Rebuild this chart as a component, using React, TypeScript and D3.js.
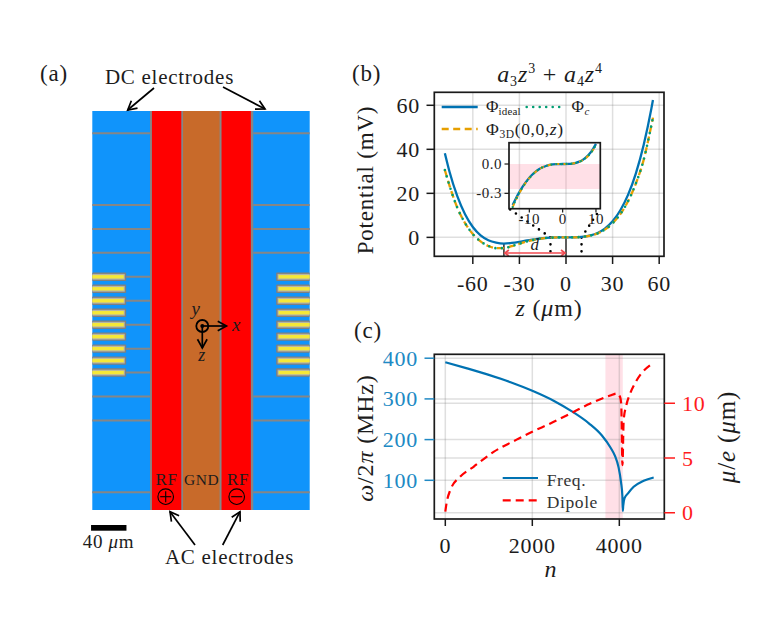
import React from "react";
import * as d3 from "d3";

// ---------- panel (b) data ----------
const zMain = [-78,-75,-70,-65,-60,-55,-50,-45,-40,-35,-30,-25,-20,-15,-10,-5,0,5,10,15,20,25,30,35,40,45,50,55,56];
const phiIdeal = [38.2,29.8,18.7,10.5,4.7,0.9,-1.3,-2.4,-2.8,-2.5,-2.0,-1.4,-0.9,-0.4,-0.14,-0.02,0,0.02,0.2,0.75,1.9,4.0,7.3,12.3,19.4,29.1,42,58.6,62.4];
const phi3D = [30.6,23.5,13.5,6.5,1.5,-1.8,-3.9,-4.9,-4.9,-4.0,-2.9,-1.8,-1.0,-0.45,-0.15,-0.02,0,0.02,0.2,0.7,1.7,3.5,6.4,10.6,16.5,24.5,35.2,51,54.4];
const zInset = [-15,-14,-13,-12,-11,-10,-9,-8,-7,-6,-5,-4,-3,-2,0,2,3,4,5,6,7,8,9,10];
const phiInset = [-0.42,-0.35,-0.288,-0.232,-0.183,-0.14,-0.105,-0.076,-0.051,-0.033,-0.02,-0.01,-0.004,-0.001,0,0.002,0.005,0.012,0.024,0.042,0.067,0.102,0.148,0.206];
const phiInset3D = [-0.44,-0.365,-0.298,-0.24,-0.188,-0.144,-0.107,-0.077,-0.052,-0.033,-0.02,-0.01,-0.004,-0.001,0,0.002,0.005,0.011,0.022,0.039,0.062,0.094,0.138,0.192];
const bXTicks = [-60,-30,0,30,60];
const bYTicks = [0,20,40,60];
const insetXTicks = [-10,0,10];
const insetYTicks = [0,-0.3];
const insetYLabels = ["0.0","-0.3"];

// ---------- panel (c) data ----------
const nFreq = [0,500,1000,1500,2000,2500,2900,3300,3600,3800,3900,3980,4040,4070,4080,4090,4120,4200,4330,4560,4790];
const freq = [390,375,359,341,320,295,270,240,210,180,160,133,95,62,25,38,56,68,84,99,107];
const nDipole = [0,30,115,345,650,1110,1650,2000,2415,2875,3333,3790,3945,4020,4045,4072,4100,4160,4250,4400,4790];
const dipole = [0.1,0.9,2.07,3.3,4.2,5.56,6.7,7.4,8.15,9.06,9.97,10.7,10.9,10.55,9.8,4.35,8.45,9.8,10.9,12.1,13.7];
const cXTicks = [0,2000,4000];
const cLeftTicks = [100,200,300,400];
const cRightTicks = [0,5,10];
const band = [3680,4080];

// ---------- panel (a) data, micrometres from the trap centre ----------
const dcGaps = [-216,-135,-108,-81,-54,-27,0,27,54,81,108,189];
const fingers = [-54,-40.5,-27,-13.5,0,13.5,27,40.5,54];
const wiredFingers = [-54,-27,0,27,54];

const BLUE = "#0072B2", ORANGE = "#E69F00", GREEN = "#009E73", TXT = "#1c1c1c";
const GRID = "rgba(120,120,120,0.24)";
const AXBLUE = "#2089c4", AXRED = "#ff1c1c";
const SERIF = "'Liberation Serif', serif";

const bx = d3.scaleLinear([-84.8, 63.1], [434.3, 664]);
const by = d3.scaleLinear([-8.6, 65.9], [256.3, 92.3]);
const ix = d3.scaleLinear([-16.1, 11.3], [509, 600.3]);
const iy = d3.scaleLinear([-0.457, 0.218], [208.7, 142.7]);
const cx = d3.scaleLinear([-253, 5034], [434.3, 664.3]);
const cl = d3.scaleLinear([4.9, 409.6], [519, 354.3]);
const cr = d3.scaleLinear([-0.57, 14.47], [519, 354.3]);
const ax = d3.scaleLinear([-122.6, 122], [92.3, 309.7]);
const az = d3.scaleLinear([-241, 209], [111, 510]);

const path = (xs: number[], ys: number[], sx: any, sy: any) =>
  d3.line<number>().x((d) => sx(d)).y((_, i) => sy(ys[i])).curve(d3.curveMonotoneX)(xs) as string;

const T = ({ x, y, s = 20, a = "middle", c = TXT, i = false, r, ls = 0.035, children }: any) => (
  <text x={x} y={y} fontSize={s} textAnchor={a} fill={c} fontStyle={i ? "italic" : "normal"} fontFamily={SERIF}
    letterSpacing={s * ls} transform={r ? `rotate(${r} ${x} ${y})` : undefined}>{children}</text>
);

const Arrow = ({ x1, y1, x2, y2 }: any) => {
  const ang = Math.atan2(y2 - y1, x2 - x1), h = 10, w = 0.5;
  const p = (t: number) => `${x2 - h * Math.cos(ang + t)},${y2 - h * Math.sin(ang + t)}`;
  return (
    <g fill="none" stroke="#000" strokeWidth={1.7}>
      <line x1={x1} y1={y1} x2={x2} y2={y2} />
      <polyline points={`${p(w)} ${x2},${y2} ${p(-w)}`} />
    </g>
  );
};

const PanelA = () => {
  const elec = "#1094fb", gap = "#868686";
  const sides = [
    { x0: -122.6, x1: -57.7, pad0: -122.6, pad1: -84.5 },
    { x0: 58.5, x1: 122, pad0: 84.3, pad1: 122 },
  ];
  return (
    <g>
      <rect x={ax(-122.6)} y={az(-241)} width={ax(122) - ax(-122.6)} height={az(209) - az(-241)} fill={elec} />
      <rect x={ax(-57.7)} y={az(-241)} width={ax(58.5) - ax(-57.7)} height={az(209) - az(-241)} fill={gap} />
      <rect x={ax(-55.5)} y={az(-241)} width={ax(-22.5) - ax(-55.5)} height={az(209) - az(-241)} fill="#ff0000" />
      <rect x={ax(-20.5)} y={az(-241)} width={ax(20.6) - ax(-20.5)} height={az(209) - az(-241)} fill="#c86a2a" />
      <rect x={ax(22.8)} y={az(-241)} width={ax(55.8) - ax(22.8)} height={az(209) - az(-241)} fill="#ff0000" />
      {sides.map((sd, k) => (
        <g key={k}>
          {dcGaps.filter((g) => !fingers.includes(g)).map((g) => (
            <line key={g} x1={ax(sd.x0)} x2={ax(sd.x1)} y1={az(g)} y2={az(g)} stroke={gap} strokeWidth={2} />
          ))}
          {wiredFingers.map((g) => (
            <line key={g} x1={ax(sd.pad0)} x2={ax(sd.x1)} y1={az(g)} y2={az(g)} stroke={gap} strokeWidth={2} />
          ))}
          {fingers.map((g) => (
            <g key={g}>
              <rect x={ax(sd.pad0)} y={az(g) - 4.2} width={ax(sd.pad1) - ax(sd.pad0)} height={8.4} fill="#7f7f7f" rx={0.8} />
              <rect x={ax(sd.pad0) + (k === 1 ? 1.4 : 0)} y={az(g) - 2.9} width={ax(sd.pad1) - ax(sd.pad0) - 1.4} height={5.8} fill="#b5b5a8" />
              <rect x={ax(sd.pad0) + (k === 1 ? 2.4 : 0)} y={az(g) - 1.7} width={ax(sd.pad1) - ax(sd.pad0) - 2.4} height={3.4} fill="#f5e838" />
            </g>
          ))}
        </g>
      ))}
      {/* coordinate axes */}
      <circle cx={202.3} cy={326} r={6} fill="none" stroke="#000" strokeWidth={1.8} />
      <circle cx={202.3} cy={326} r={2} fill="#000" />
      <Arrow x1={202.3} y1={326} x2={226.5} y2={326} />
      <Arrow x1={202.3} y1={326} x2={202.3} y2={348} />
      <T x={232} y={331} s={19} a="start" i>x</T>
      <T x={196} y={315} s={19} i>y</T>
      <T x={202} y={361} s={18} i>z</T>

      <T x={166.5} y={485} s={17}>RF</T>
      <T x={201.7} y={485} s={15.5}>GND</T>
      <T x={238} y={485} s={17}>RF</T>
      {[165.7, 236.7].map((c, k) => (
        <g key={k} fill="none" stroke="#000" strokeWidth={1.1}>
          <circle cx={c} cy={496.7} r={7.8} />
          <line x1={c - 5.5} x2={c + 5.5} y1={496.7} y2={496.7} />
          {k === 0 && <line x1={c} x2={c} y1={491.2} y2={502.2} />}
        </g>
      ))}
      <rect x={ax(-124)} y={525} width={35.4} height={5.7} fill="#000" />
      <T x={108.5} y={548} s={19}>40 <tspan fontStyle="italic">μ</tspan>m</T>
      <T x={169.5} y={84} s={21}>DC electrodes</T>
      <T x={229.5} y={564} s={21}>AC electrodes</T>
      <Arrow x1={154} y1={88} x2={127.7} y2={110} />
      <Arrow x1={223} y1={87} x2={265} y2={109} />
      <Arrow x1={195} y1={545} x2={170} y2={511.7} />
      <Arrow x1={222.7} y1={545} x2={240} y2={511.7} />
      <T x={40} y={81} s={23} a="start">(a)</T>
    </g>
  );
};

const Legend = ({ x1, x2, y, color, dash, w = 2.3, cap }: any) => (
  <line x1={x1} x2={x2} y1={y} y2={y} stroke={color} strokeWidth={w} strokeDasharray={dash} strokeLinecap={cap} />
);

const PanelB = () => (
  <g>
    {bXTicks.map((t) => <line key={t} x1={bx(t)} x2={bx(t)} y1={92.3} y2={256.3} stroke={GRID} strokeWidth={1.5} />)}
    {bYTicks.map((t) => <line key={t} x1={434.3} x2={664} y1={by(t)} y2={by(t)} stroke={GRID} strokeWidth={1.5} />)}

    {/* distance d */}
    <line x1={bx(-40)} x2={bx(-40)} y1={by(-2.8)} y2={256.3} stroke="#444" strokeWidth={1.7} />
    <line x1={bx(0)} x2={bx(0)} y1={by(0)} y2={256.3} stroke="#444" strokeWidth={1.7} />
    {/* zoom guides */}
    <g fill="none" stroke="#000" strokeWidth={2.6} strokeLinecap="round" strokeDasharray="0 7">
      <line x1={bx(-10)} x2={ix(-16.1)} y1={by(0)} y2={iy(-0.457)} />
      <line x1={bx(-10)} x2={bx(-10)} y1={by(0)} y2={256.3} />
      <line x1={bx(10)} x2={ix(11.3)} y1={by(0)} y2={iy(-0.457)} />
      <line x1={bx(10)} x2={bx(10)} y1={by(0)} y2={256.3} />
    </g>
    <path d={path(zMain, phiIdeal, bx, by)} fill="none" stroke={BLUE} strokeWidth={2.3} />
    <path d={path(zMain, phi3D, bx, by)} fill="none" stroke={ORANGE} strokeWidth={2.3} strokeDasharray="7 4" />
    <path d={path(zMain, phi3D, bx, by)} fill="none" stroke={GREEN} strokeWidth={2.6} strokeDasharray="0 6.5" strokeLinecap="round" />

    <g stroke="#f04a50" fill="none" strokeWidth={1.7}>
      <line x1={bx(-40) + 1} x2={bx(0) - 1} y1={253} y2={253} />
      <polyline points={`${bx(-40) + 5},250 ${bx(-40) + 1},253 ${bx(-40) + 5},256`} />
      <polyline points={`${bx(0) - 5},250 ${bx(0) - 1},253 ${bx(0) - 5},256`} />
    </g>
    <T x={535} y={250} s={17} i>d</T>

    <rect x={434.3} y={92.3} width={229.7} height={164} fill="none" stroke="#1a1a1a" strokeWidth={1.7} />
    {bXTicks.map((t) => (
      <g key={t}>
        <line x1={bx(t)} x2={bx(t)} y1={256.3} y2={264} stroke="#1a1a1a" strokeWidth={1.5} />
        <T x={bx(t)} y={291} s={22}>{t}</T>
      </g>
    ))}
    {bYTicks.map((t) => (
      <g key={t}>
        <line x1={434.3} x2={426.5} y1={by(t)} y2={by(t)} stroke="#1a1a1a" strokeWidth={1.5} />
        <T x={420} y={by(t) + 7.5} s={22} a="end">{t}</T>
      </g>
    ))}
    <T x={373} y={180} s={23} r={-90}>Potential (mV)</T>
    <T x={549} y={316} s={24}><tspan fontStyle="italic">z</tspan> (<tspan fontStyle="italic">μ</tspan>m)</T>
    <T x={550} y={82} s={24}>
      <tspan fontStyle="italic">a</tspan><tspan fontSize={14} dy={4}>3</tspan>
      <tspan fontStyle="italic" dy={-4}>z</tspan><tspan fontSize={14} dy={-9}>3</tspan>
      <tspan dy={9}> + </tspan>
      <tspan fontStyle="italic">a</tspan><tspan fontSize={14} dy={4}>4</tspan>
      <tspan fontStyle="italic" dy={-4}>z</tspan><tspan fontSize={14} dy={-9}>4</tspan>
    </T>
    <T x={352} y={81} s={23} a="start">(b)</T>

    {/* legend */}
    <Legend x1={441.7} x2={477.7} y={107} color={BLUE} />
    <Legend x1={526.7} x2={563} y={107} color={GREEN} dash="0 6.5" cap="round" w={2.6} />
    <Legend x1={441.7} x2={477.7} y={129} color={ORANGE} dash="7 4.5" />
    <T x={486} y={112} s={17} a="start" ls={0.01}>Φ<tspan fontSize={11} dy={3}>ideal</tspan></T>
    <T x={571.5} y={112} s={17} a="start">Φ<tspan fontSize={11} dy={3} fontStyle="italic">c</tspan></T>
    <T x={486} y={135} s={17.5} a="start">Φ<tspan fontSize={11.5} dy={3}>3D</tspan><tspan dy={-3}>(0,0,</tspan><tspan fontStyle="italic">z</tspan>)</T>

    {/* inset */}
    <rect x={509} y={iy(0)} width={91.3} height={iy(-0.256) - iy(0)} fill="#ff8fa8" fillOpacity={0.28} />
    <path d={path(zInset, phiInset, ix, iy)} fill="none" stroke={BLUE} strokeWidth={2.3} />
    <path d={path(zInset, phiInset3D, ix, iy)} fill="none" stroke={ORANGE} strokeWidth={2} strokeDasharray="4 4" />
    <path d={path(zInset, phiInset3D, ix, iy)} fill="none" stroke={GREEN} strokeWidth={2.2} strokeDasharray="0 5" strokeLinecap="round" />
    <rect x={509} y={142.7} width={91.3} height={66} fill="none" stroke="#1a1a1a" strokeWidth={1.7} />
    {insetXTicks.map((t) => (
      <g key={t}>
        <line x1={ix(t)} x2={ix(t)} y1={208.7} y2={212.5} stroke="#1a1a1a" strokeWidth={1.2} />
        <T x={ix(t)} y={224} s={15}>{t}</T>
      </g>
    ))}
    {insetYTicks.map((t, k) => (
      <g key={t}>
        <line x1={509} x2={504.5} y1={iy(t)} y2={iy(t)} stroke="#1a1a1a" strokeWidth={1.2} />
        <T x={502} y={iy(t) + 5} s={15} a="end">{insetYLabels[k]}</T>
      </g>
    ))}
  </g>
);

const PanelC = () => (
  <g>
    <rect x={cx(band[0])} y={354.3} width={cx(band[1]) - cx(band[0])} height={164.7} fill="#ff8fa8" fillOpacity={0.28} />
    {cXTicks.map((t) => <line key={t} x1={cx(t)} x2={cx(t)} y1={354.3} y2={519} stroke={GRID} strokeWidth={1.5} />)}
    {cLeftTicks.map((t) => <line key={t} x1={434.3} x2={664.3} y1={cl(t)} y2={cl(t)} stroke={GRID} strokeWidth={1.5} />)}
    {cRightTicks.map((t) => <line key={t} x1={434.3} x2={664.3} y1={cr(t)} y2={cr(t)} stroke={GRID} strokeWidth={1.5} />)}
    <path d={path(nFreq, freq, cx, cl)} fill="none" stroke={BLUE} strokeWidth={2.2} />
    <path d={path(nDipole, dipole, cx, cr)} fill="none" stroke="#ff0000" strokeWidth={2.2} strokeDasharray="8 5" />
    <rect x={434.3} y={354.3} width={230} height={164.7} fill="none" stroke="#1a1a1a" strokeWidth={1.7} />
    {cXTicks.map((t) => (
      <g key={t}>
        <line x1={cx(t)} x2={cx(t)} y1={519} y2={526} stroke="#1a1a1a" strokeWidth={1.5} />
        <T x={cx(t)} y={553} s={22}>{t}</T>
      </g>
    ))}
    {cLeftTicks.map((t) => (
      <g key={t}>
        <line x1={434.3} x2={424.5} y1={cl(t)} y2={cl(t)} stroke={AXBLUE} strokeWidth={1.5} />
        <T x={418} y={cl(t) + 7.5} s={22} a="end" c={AXBLUE}>{t}</T>
      </g>
    ))}
    {cRightTicks.map((t) => (
      <g key={t}>
        <line x1={664.3} x2={675} y1={cr(t)} y2={cr(t)} stroke={AXRED} strokeWidth={1.5} />
        <T x={682} y={cr(t) + 7.5} s={22} a="start" c={AXRED}>{t}</T>
      </g>
    ))}
    <T x={373} y={438} s={24} r={-90}><tspan fontStyle="italic">ω</tspan>/2<tspan fontStyle="italic">π</tspan> (MHz)</T>
    <T x={735} y={437} s={25} r={-90}><tspan fontStyle="italic">μ</tspan>/<tspan fontStyle="italic">e</tspan> (<tspan fontStyle="italic">μ</tspan>m)</T>
    <T x={551} y={577} s={24} i>n</T>
    <T x={354} y={338} s={23} a="start">(c)</T>
    <Legend x1={502.7} x2={538} y={478} color={BLUE} w={2.2} />
    <Legend x1={502.7} x2={538} y={500.3} color="#ff0000" dash="8 5" w={2.2} />
    <T x={546.7} y={485.7} s={17.5} a="start" c="#333">Freq.</T>
    <T x={546.7} y={508} s={17.5} a="start" c="#333">Dipole</T>
  </g>
);

export default function App() {
  return (
    <svg width={779} height={634} viewBox="0 0 779 634"
      style={{ position: "absolute", left: 0, top: 0, background: "#fff" }}>
      <PanelA />
      <PanelB />
      <PanelC />
    </svg>
  );
}
